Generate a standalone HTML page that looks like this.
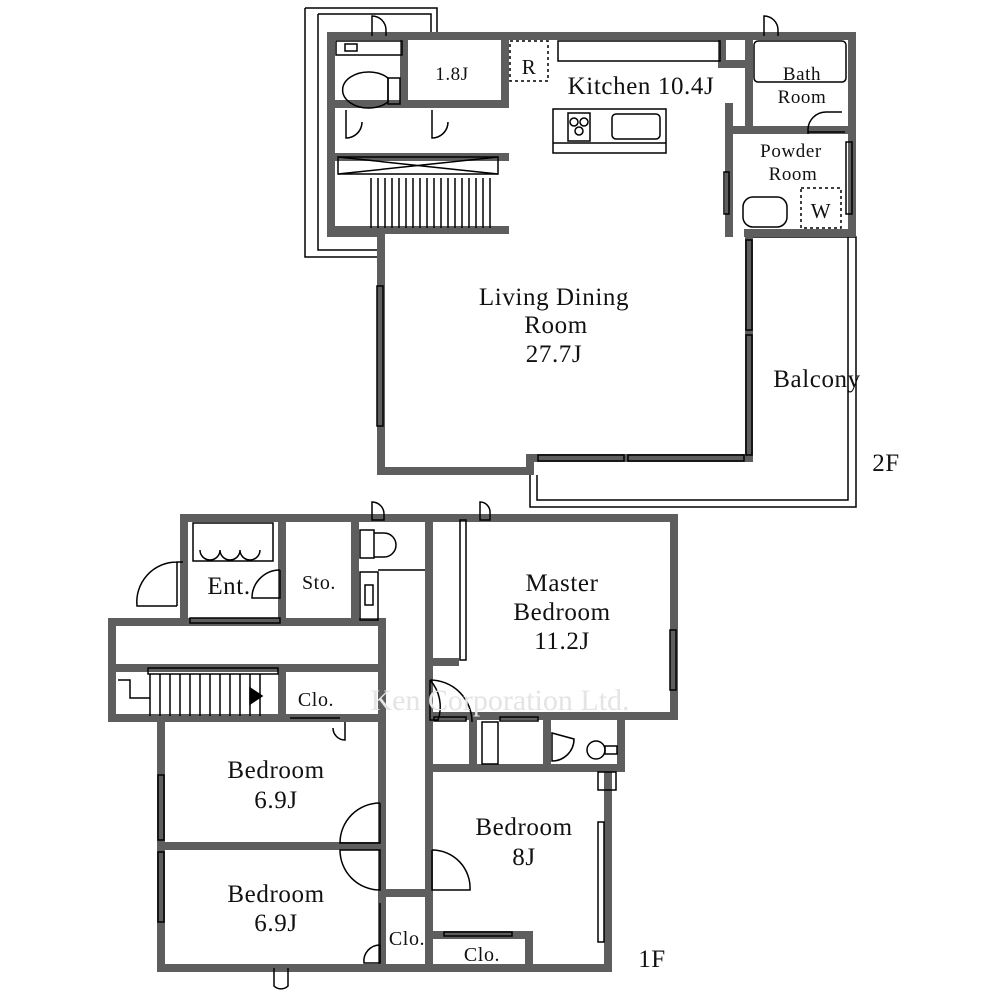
<!DOCTYPE html>
<html><head><style>
html,body{margin:0;padding:0;background:#fff;}
svg{display:block}
text{font-family:"Liberation Serif",serif;fill:#111;}
</style></head><body>
<svg width="1000" height="1000" viewBox="0 0 1000 1000" xmlns="http://www.w3.org/2000/svg">
<g fill="none" stroke="#000" stroke-width="1.5">
<path d="M305,8 H437 V32 M318,14 H431 V32 M305,8 V257 H378 M318,14 V250 H378"/>
<path d="M750,237 H856 V507 H530 V475 M750,237 H848 V500 H537 V475"/>
</g>
<g stroke="#5e5e5e" stroke-width="8" fill="none" stroke-linecap="square">
<path d="M331,36 H852 V233 H748"/>
<path d="M331,36 V233 H381 V471 H530 V458 H749 V233"/>
<path d="M404,36 V104 H505 V36"/>
<path d="M331,104 H404"/>
<path d="M337,157 H505 M337,230 H505"/>
<path d="M749,36 V130 M749,130 H852 M729,130 V233 M729,107 V130 H749"/>
<path d="M722,36 V64 H748"/>
</g>
<g fill="none" stroke="#000" stroke-width="1.5">
<rect x="336" y="41" width="66" height="14"/><rect x="345" y="44" width="12" height="7"/>
<path d="M388,78 a26,18 0 1 0 0,24 z"/><rect x="388" y="78" width="12" height="26"/>
<path d="M346,110 v28 a16,16 0 0 0 16,-16"/>
<path d="M432,110 v28 a16,16 0 0 0 16,-16"/>
<rect x="338" y="157" width="160" height="17"/><path d="M338,157 L498,174 M338,174 L498,157"/>
<path d="M371,178 V228 M378,178 V228 M385,178 V228 M392,178 V228 M399,178 V228 M406,178 V228 M413,178 V228 M420,178 V228 M427,178 V228 M434,178 V228 M441,178 V228 M448,178 V228 M455,178 V228 M462,178 V228 M469,178 V228 M476,178 V228 M483,178 V228 M490,178 V228"/>
<rect x="510" y="41" width="38" height="40" stroke-dasharray="3,3"/>
<rect x="558" y="41" width="162" height="20"/>
<rect x="553" y="109" width="113" height="44"/><path d="M553,143 H666"/>
<rect x="568" y="113" width="22" height="28"/>
<circle cx="574" cy="122" r="4"/><circle cx="584" cy="122" r="4"/><circle cx="579" cy="131" r="4"/>
<rect x="612" y="114" width="48" height="25" rx="4"/>
<rect x="754" y="41" width="92" height="41" rx="4"/>
<path d="M808,134 v-4 a18,18 0 0 1 18,-18 h16 M808,132 H845"/>
<path d="M764,36 v-20 a14,14 0 0 1 14,14 v6"/>
<path d="M372,36 v-20 a14,14 0 0 1 14,14 v6"/>
<rect x="743" y="197" width="44" height="30" rx="10"/>
<rect x="801" y="188" width="40" height="40" stroke-dasharray="3,3"/>
<rect x="377" y="286" width="6" height="140"/>
<rect x="746" y="240" width="6" height="90"/><rect x="746" y="335" width="6" height="120"/>
<rect x="538" y="455" width="86" height="6"/><rect x="628" y="455" width="116" height="6"/>
<rect x="724" y="172" width="5" height="42"/><rect x="846" y="142" width="6" height="72"/>
</g>
<g stroke="#5e5e5e" stroke-width="8" fill="none" stroke-linecap="square">
<path d="M184,518 H674 V716 H621 V768 H608 V968 H161 V718 H112 V622 H184 V518"/>
<path d="M112,668 H380"/>
<path d="M161,718 H382"/>
<path d="M382,622 V968 M429,518 V968"/>
<path d="M184,622 H380"/>
<path d="M282,518 V618 M355,518 V618"/>
<path d="M282,668 V718"/>
<path d="M161,846 H382"/>
<path d="M382,893 H429"/>
<path d="M429,716 H621 M429,768 H608"/>
<path d="M473,716 V768 M547,716 V768"/>
<path d="M429,935 H529 V968"/>
<path d="M433,662 H455"/>
</g>
<g fill="none" stroke="#000" stroke-width="1.5">
<rect x="193" y="523" width="80" height="38"/><path d="M200,550 a10,10 0 0 0 20,0 a10,10 0 0 0 20,0 a10,10 0 0 0 20,0"/>
<path d="M183,562 h-6 v44 M177,606 h-40 a40,40 0 0 1 40,-44"/>
<path d="M280,570 v28 h-28 a28,28 0 0 1 28,-28"/>
<rect x="190" y="618" width="90" height="5"/>
<rect x="360" y="530" width="14" height="28"/><path d="M374,533 h10 a12,12 0 0 1 0,24 h-10"/>
<rect x="360" y="572" width="18" height="48"/><rect x="365" y="585" width="8" height="20"/>
<path d="M378,570 H425"/>
<rect x="148" y="668" width="130" height="6"/>
<path d="M118,680 H130 V698 H150 M150,674 V716 M160,674 V716 M170,674 V716 M180,674 V716 M190,674 V716 M200,674 V716 M210,674 V716 M220,674 V716 M230,674 V716 M240,674 V716 M250,674 V716 M260,674 V716"/>
<path d="M250,688 L262,696 L250,704 Z" fill="#000"/>
<path d="M290,718 h50 M345,722 v18 a12,12 0 0 1 -12,-12"/>
<rect x="460" y="520" width="6" height="140"/>
<path d="M430,680 v40 h8 a40,40 0 0 0 -8,-40 M430,680 a42,42 0 0 1 42,42"/>
<rect x="670" y="630" width="6" height="60"/>
<rect x="158" y="775" width="6" height="65"/><rect x="158" y="852" width="6" height="70"/>
<path d="M380,803 v40 h-40 a40,40 0 0 1 40,-40"/>
<path d="M380,850 v40 a40,40 0 0 1 -40,-40 z"/>
<path d="M380,903 v60"/><path d="M380,945 v18 h-16 a16,16 0 0 1 16,-18"/>
<path d="M432,850 v40 h38 a38,38 0 0 0 -38,-40"/>
<rect x="444" y="932" width="68" height="4"/>
<rect x="598" y="822" width="6" height="120"/>
<rect x="482" y="722" width="16" height="42"/>
<path d="M552,733 v28 a22,22 0 0 0 22,-22 z"/>
<circle cx="596" cy="750" r="9"/><rect x="605" y="746" width="12" height="8"/>
<rect x="598" y="772" width="18" height="18"/>
<path d="M274,968 v18 a10,10 0 0 0 14,0 v-18"/>
<path d="M372,502 a12,12 0 0 1 12,12 v6 h-12 z"/>
<path d="M480,502 a10,10 0 0 1 10,10 v8 h-10 z"/>
<rect x="434" y="717" width="32" height="4"/><rect x="500" y="717" width="38" height="4"/>
</g>
<text x="500" y="710" font-size="30" text-anchor="middle" style="fill:#e4e4e4">Ken Corporation Ltd.</text>
<g font-size="25" text-anchor="middle" letter-spacing="0.6">
<text x="641" y="94">Kitchen 10.4J</text>
<text x="452" y="80" font-size="19">1.8J</text>
<text x="529" y="74" font-size="21">R</text>
<text x="802" y="80" font-size="19">Bath</text>
<text x="802" y="103" font-size="19">Room</text>
<text x="791" y="157" font-size="19">Powder</text>
<text x="793" y="180" font-size="19">Room</text>
<text x="821" y="218" font-size="21">W</text>
<text x="554" y="305">Living Dining</text>
<text x="556" y="333">Room</text>
<text x="554" y="362">27.7J</text>
<text x="817" y="387">Balcony</text>
<text x="886" y="471">2F</text>
<text x="229" y="594">Ent.</text>
<text x="319" y="589" font-size="20">Sto.</text>
<text x="562" y="591">Master</text>
<text x="562" y="620">Bedroom</text>
<text x="562" y="649">11.2J</text>
<text x="316" y="706" font-size="20">Clo.</text>
<text x="276" y="778">Bedroom</text>
<text x="276" y="808">6.9J</text>
<text x="524" y="835">Bedroom</text>
<text x="524" y="865">8J</text>
<text x="276" y="902">Bedroom</text>
<text x="276" y="931">6.9J</text>
<text x="407" y="945" font-size="20">Clo.</text>
<text x="482" y="961" font-size="20">Clo.</text>
<text x="652" y="967">1F</text>
</g>
</svg>
</body></html>
